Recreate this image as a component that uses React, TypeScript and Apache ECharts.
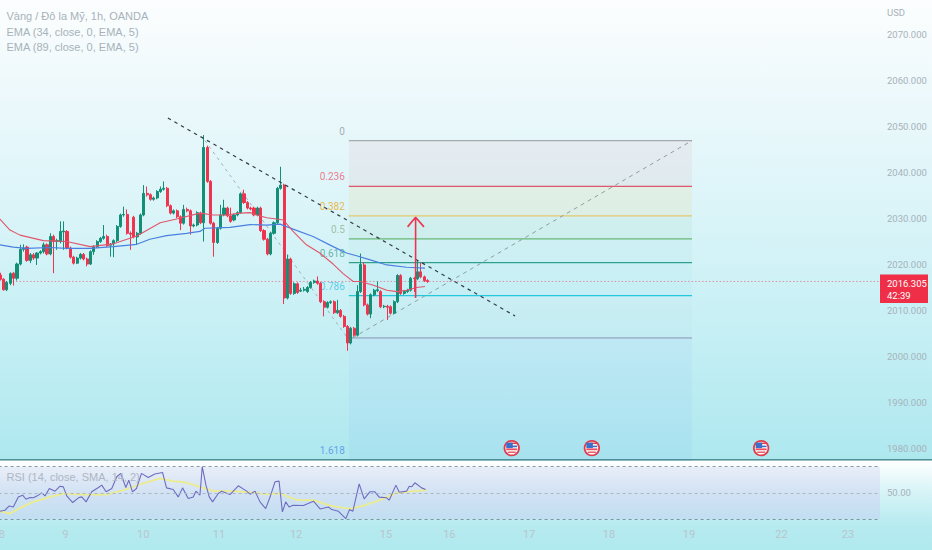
import React, { useEffect, useRef } from "react";
import * as echarts from "echarts";

// [open, close, low, high]
const candles: number[][] = [
  [2017.7,2016.8,2016.5,2018.2],[2016.8,2014.5,2014.3,2017.0],[2014.5,2016.1,2014.2,2016.4],[2015.9,2018.0,2015.5,2018.3],
  [2018.1,2017.0,2015.4,2018.4],[2017.0,2020.1,2016.5,2020.4],[2020.1,2023.3,2019.8,2024.3],[2023.3,2023.6,2022.8,2024.4],
  [2023.8,2020.9,2020.6,2024.1],[2020.9,2022.1,2020.3,2022.5],[2022.1,2021.4,2021.0,2022.5],[2021.4,2022.5,2019.9,2022.7],
  [2022.5,2022.8,2022.2,2023.1],[2022.8,2024.3,2022.4,2024.8],[2024.3,2022.3,2022.0,2024.6],[2022.3,2026.1,2022.0,2026.8],
  [2026.1,2025.0,2018.1,2026.5],[2025.0,2025.2,2023.2,2025.6],[2025.0,2027.2,2024.6,2029.4],[2027.1,2027.3,2023.2,2029.4],
  [2027.2,2023.6,2023.3,2027.5],[2023.6,2021.6,2021.3,2023.9],[2021.6,2020.3,2020.0,2021.9],[2020.3,2021.4,2020.1,2021.7],
  [2021.4,2022.2,2021.1,2022.5],[2022.2,2021.2,2020.9,2022.5],[2021.2,2020.1,2019.6,2021.5],[2020.1,2022.8,2019.9,2023.1],
  [2022.8,2023.9,2022.1,2024.2],[2023.9,2025.0,2023.6,2025.3],[2025.0,2025.7,2024.7,2026.0],[2025.7,2026.1,2025.4,2028.6],
  [2026.1,2024.1,2023.8,2026.5],[2024.2,2024.4,2021.7,2024.7],[2024.5,2025.2,2021.6,2025.5],[2025.2,2028.3,2024.9,2028.6],
  [2028.3,2030.8,2028.0,2031.1],[2030.8,2030.9,2030.4,2032.6],[2030.9,2026.8,2026.5,2032.0],[2026.8,2026.6,2023.2,2027.2],
  [2030.3,2026.0,2025.7,2030.6],[2026.0,2026.8,2024.3,2027.1],[2026.8,2030.8,2026.5,2031.1],[2030.8,2035.5,2030.5,2037.3],
  [2035.5,2035.2,2034.8,2037.0],[2035.2,2034.2,2033.9,2035.5],[2034.2,2034.5,2033.9,2034.8],[2034.5,2035.9,2034.2,2036.2],
  [2035.9,2036.4,2035.6,2037.0],[2036.4,2036.6,2036.1,2038.1],[2036.6,2032.8,2032.5,2036.9],[2032.8,2031.2,2030.9,2033.1],
  [2031.2,2031.7,2030.9,2032.0],[2031.7,2030.4,2030.1,2032.0],[2030.4,2029.0,2027.5,2030.7],[2029.0,2032.0,2028.7,2033.0],
  [2032.0,2031.7,2031.4,2032.4],[2031.7,2028.4,2026.5,2032.0],[2028.4,2028.6,2028.1,2028.9],[2028.6,2031.3,2028.3,2031.6],
  [2031.2,2029.1,2028.8,2031.5],[2029.1,2045.5,2025.0,2048.2],[2045.5,2038.1,2037.8,2045.9],[2038.1,2029.0,2028.7,2038.4],
  [2029.0,2024.8,2021.7,2029.3],[2024.8,2027.9,2024.5,2028.2],[2027.9,2030.8,2027.6,2033.0],[2030.8,2032.3,2030.5,2034.1],
  [2032.3,2030.6,2030.3,2032.6],[2030.6,2029.4,2029.1,2032.4],[2029.7,2030.8,2029.4,2031.1],[2030.8,2031.3,2030.5,2031.6],
  [2031.3,2035.4,2031.0,2035.7],[2035.4,2033.5,2033.2,2036.3],[2033.5,2032.3,2032.0,2033.8],[2032.3,2032.1,2031.8,2032.6],
  [2032.3,2030.8,2030.5,2032.6],[2030.8,2032.3,2030.5,2032.6],[2032.3,2027.4,2027.1,2032.6],[2027.4,2025.5,2025.2,2027.7],
  [2025.5,2022.3,2022.0,2025.8],[2022.3,2026.8,2022.0,2027.1],[2026.8,2029.1,2026.5,2029.4],[2029.1,2036.6,2028.8,2036.9],
  [2036.6,2037.3,2036.3,2041.3],[2037.3,2012.7,2011.4,2037.6],[2012.7,2021.2,2012.4,2022.1],[2021.2,2013.7,2013.4,2021.5],
  [2013.7,2015.8,2013.4,2016.1],[2015.8,2013.9,2013.6,2016.1],[2014.2,2014.4,2014.0,2014.9],[2014.4,2014.6,2014.1,2015.1],
  [2014.1,2015.0,2013.8,2015.3],[2015.0,2016.1,2014.7,2016.4],[2016.1,2016.4,2015.8,2016.7],[2016.4,2015.9,2015.6,2017.4],
  [2015.9,2011.9,2011.6,2016.2],[2011.9,2010.7,2008.7,2012.2],[2010.7,2011.7,2010.4,2012.0],[2011.7,2011.9,2011.4,2012.2],
  [2011.9,2009.5,2009.2,2012.2],[2009.5,2010.0,2009.2,2012.3],[2010.0,2008.7,2008.4,2010.3],[2008.7,2006.5,2006.2,2009.0],
  [2006.5,2002.9,2001.2,2006.8],[2002.9,2006.1,2002.6,2006.4],[2006.1,2004.6,2004.3,2006.4],[2004.6,2014.1,2004.3,2015.5],
  [2014.1,2020.0,2013.8,2022.4],[2019.9,2011.2,2010.9,2020.5],[2011.2,2009.2,2008.9,2011.5],[2009.2,2013.4,2008.3,2013.7],
  [2013.4,2014.4,2013.1,2014.7],[2014.3,2014.5,2014.0,2016.3],[2014.1,2010.8,2010.5,2014.4],[2010.8,2010.9,2010.5,2011.2],
  [2010.9,2010.7,2007.9,2011.2],[2010.8,2009.4,2009.1,2011.1],[2009.4,2011.9,2009.1,2012.2],[2011.9,2017.6,2011.6,2017.9],
  [2017.6,2013.7,2013.4,2017.9],[2013.7,2014.1,2013.4,2014.4],[2014.1,2014.4,2013.8,2014.7],[2014.4,2017.0,2014.1,2017.3],
  [2017.0,2016.9,2014.0,2017.3],[2016.9,2018.4,2016.6,2021.0],[2018.4,2017.3,2017.0,2020.4],[2017.3,2016.5,2016.2,2017.6],
  [2016.5,2016.3,2016.0,2016.8],
];

const ema34: number[][] = [
  [0.4,2029.9],[3.4,2027.5],[6.4,2026.4],[13.4,2025.2],[20.4,2025.0],[27.4,2023.9],[34.4,2024.5],[41.4,2026.2],[48.4,2029.1],
  [53.3,2029.9],[60.3,2031.2],[64.3,2030.8],[68.3,2030.8],[72.3,2031.2],[75.3,2031.3],[77.3,2030.8],[80.3,2030.2],[83.3,2029.9],
  [85.3,2029.7],[88.2,2027.2],[92.2,2024.3],[96.2,2022.5],[100.2,2020.1],[103.2,2018.0],[106.2,2016.3],[108.3,2016.3],
  [112.3,2015.5],[116.3,2014.4],[119.3,2014.1],[122.2,2014.4],[125.2,2015.0],[127.7,2015.2],
];
const ema89: number[][] = [
  [0.4,2024.3],[4.4,2023.8],[8.4,2023.5],[15.4,2023.7],[20.4,2023.5],[27.4,2023.5],[34.4,2023.9],[41.4,2024.4],[45.3,2025.5],
  [50.3,2026.3],[56.3,2026.8],[60.3,2027.2],[61.8,2027.9],[69.3,2028.1],[75.3,2028.7],[80.3,2028.6],[84.3,2028.8],[88.2,2027.7],
  [94.2,2026.1],[100.2,2023.9],[104.2,2022.5],[107.2,2021.9],[111.3,2021.0],[116.3,2019.9],[122.2,2019.4],[127.7,2019.2],
];
const rsi: number[][] = [
  [0.4,35.9],[1.9,36.7],[3.2,40],[4.4,39.2],[5.9,46.9],[7.2,48.2],[8.2,45.1],[9.4,46.4],[10.4,46.2],[11.6,47.7],[12.9,50],[13.9,47.7],
  [15.2,53.3],[16.9,51.3],[18.4,55.1],[19.4,54.6],[20.4,47.7],[22.2,42.6],[23.9,46.2],[24.9,46.9],[26.2,43.1],[27.9,50.8],[29.9,54.1],
  [30.9,55.9],[32.2,50.8],[33.9,53.3],[35.4,62.3],[36.6,64.9],[38.1,54.1],[39,59.7],[40.1,50.8],[41.3,53.3],[42.8,64.9],[44.8,61.8],
  [46.8,64.4],[49.1,65.6],[50.3,53.8],[52.3,52.6],[53.8,46.9],[55.1,53.8],[56.8,45.6],[58.3,46.9],[59.1,51.3],[60.3,48.2],[61,70],
  [62.1,55.9],[63.1,46.9],[64.1,43.1],[65.8,49.5],[66.8,51.3],[69.3,48.7],[71.8,55.4],[74.3,51.3],[75.3,49],[76.8,51.3],[78.3,43.1],
  [80,37.9],[81.5,48.2],[82.8,58.5],[84,59],[85,35.4],[86,43.1],[87,39.2],[88.2,40.5],[91.3,40.3],[94.3,43.6],[96.3,37.7],[98.8,39.2],
  [99.8,37.2],[101.8,35.9],[104,30.3],[105.1,37.2],[106.1,35.9],[108,56.9],[109.5,45.4],[111.2,50.8],[112.7,50.8],[114,46.7],[116.2,46.2],
  [117,44.4],[119,55.9],[120,50.5],[122.2,51.3],[123,55.1],[123.7,54.6],[124.7,57.7],[126.7,53.8],[127.9,52.6],
];
const rsiMa: number[][] = [
  [0.4,35.9],[3.4,34.1],[6.4,38.5],[10.4,43.1],[15.4,47],[19.4,49.5],[25.4,48.7],[32.3,48.7],[37.4,52],[42.3,56.4],[48.3,61],[52.3,58.9],
  [56.3,57.9],[60.3,54.6],[64.3,51.3],[70.3,51.3],[75.3,50.3],[80.3,49],[84.3,49.5],[89.3,44.4],[94.3,44.4],[99.3,40.3],[105.3,37.7],
  [109.3,40.3],[114.2,44.4],[119.2,50],[124.2,51.3],[128.2,52.1],
];

const priceTicks = [1980,1990,2000,2010,2020,2030,2040,2050,2060,2070];
const dayPositions = [1,20,43.3,66,89.1,116,135,158.9,182.8,206.8,234.5,254.4];
const dayLabels = ["8","9","10","11","12","15","16","17","18","19","22","23"];

const fibRatios = ["0","0.236","0.382","0.5","0.618","0.786","1","1.618"];
const fibPrices = [2047,2037,2030.6,2025.6,2020.4,2013.2,2004,1977.41];
const fibLineColors = ["#a4abb0","#e0566c","#e3c870","#66b876","#2f9f8e","#22c8dc","#8a92b2","#5b9af0"];
const fibLabelColors = ["#8f979c","#ef5a72","#f0a820","#8fb58a","#4aa59a","#3cc4e4","","#4f8fe8"];
const fibFills = ["rgba(242,54,69,0.055)","rgba(255,190,60,0.10)","rgba(76,175,80,0.06)","rgba(8,153,129,0.03)","rgba(0,188,212,0.03)","rgba(120,123,134,0.02)","rgba(41,98,255,0.035)"];
const fibRange = [104.9,207.7];
const fibDiagonal = [[106,2004],[207.7,2047]];
const swingLeg = [[61.8,2047],[104.5,2004]];
const downTrend = [[50.7,2051.9],[154.7,2008.8]];
const arrowPath = [[124.9,2012.7],[124.9,2030.3],[122.5,2028.2],[124.9,2030.3],[127.4,2028.2]];
const lastPrice = 2016.305;
const countdown = "42:39";
const flagEvents = [[153.7,1980],[177.7,1980],[228.4,1980]];
const legendLines = ["Vàng / Đô la Mỹ, 1h, OANDA","EMA (34, close, 0, EMA, 5)","EMA (89, close, 0, EMA, 5)"];
const rsiTitle = "RSI (14, close, SMA, 14, 2)";

const SLOTS = 264;
const GREY = "#a7b2ba";
const NARROW = "Roboto, sans-serif";
const SANS = "'Liberation Sans', Arial, sans-serif";
const LINEAR = (stops: [number, string][]) =>
  new echarts.graphic.LinearGradient(0, 0, 0, 1, stops.map(([offset, color]) => ({ offset, color })));

export default function App() {
  const ref = useRef<HTMLDivElement>(null);
  useEffect(() => {
    const chart = echarts.init(ref.current!, undefined, { renderer: "svg" });
    const line = (data: number[][], color: string, width: number, type: any = "solid", extra: any = {}) => ({
      type: "line", xAxisIndex: 1, yAxisIndex: 0, data, showSymbol: false, symbol: "none", smooth: false, silent: true,
      lineStyle: { color, width, type }, ...extra,
    });
    chart.setOption({
      animation: false,
      grid: [
        { left: -1.4, top: 0, width: 881.4, height: 460, outerBoundsMode: "none" },
        { left: -1.4, top: 461, width: 881.4, height: 64, outerBoundsMode: "none" },
      ],
      xAxis: [
        { type: "category", gridIndex: 0, data: Array.from({ length: SLOTS }, (_, i) => String(i)), show: false, boundaryGap: true },
        { type: "value", gridIndex: 0, min: 0, max: SLOTS, show: false, splitLine: { show: false } },
        {
          type: "value", gridIndex: 1, min: 0, max: SLOTS, position: "bottom",
          axisLine: { show: false }, axisTick: { show: false }, splitLine: { show: false },
          axisLabel: {
            show: true, customValues: dayPositions, margin: 4, color: "#b8c5cc", fontSize: 11, fontFamily: NARROW,
            formatter: (v: number) => dayLabels[dayPositions.indexOf(v)] ?? "",
            hideOverlap: false, alignMinLabel: "center", alignMaxLabel: "center",
          },
        },
      ],
      yAxis: [
        {
          type: "value", gridIndex: 0, position: "right", min: 1977.41, max: 2077.625, scale: true,
          axisLine: { show: false }, axisTick: { show: false }, splitLine: { show: false },
          axisLabel: { customValues: priceTicks, margin: 7, color: GREY, fontSize: 9.5, fontFamily: NARROW, formatter: (v: number) => v.toFixed(3) },
        },
        {
          type: "value", gridIndex: 1, position: "right", min: 25.41, max: 74.36, scale: true,
          axisLine: { show: false }, axisTick: { show: false }, splitLine: { show: false },
          axisLabel: { customValues: [50], margin: 7, color: GREY, fontSize: 9.5, fontFamily: NARROW, formatter: (v: number) => v.toFixed(2) },
        },
      ],
      graphic: [
        { type: "line", z: 50, shape: { x1: 0, y1: 459.8, x2: 932, y2: 459.8 }, style: { stroke: "#4f8e94", lineWidth: 1.4 } },
        { type: "text", z: 60, x: 6.5, y: 16, style: { text: legendLines[0], fill: GREY, font: `11px ${SANS}`, textVerticalAlign: "middle" } },
        { type: "text", z: 60, x: 6.5, y: 31.5, style: { text: legendLines[1], fill: GREY, font: `11px ${SANS}`, textVerticalAlign: "middle" } },
        { type: "text", z: 60, x: 6.5, y: 46.5, style: { text: legendLines[2], fill: GREY, font: `11px ${SANS}`, textVerticalAlign: "middle" } },
        { type: "text", z: 60, x: 6.5, y: 477, style: { text: rsiTitle, fill: "#adb6c4", font: `11px ${SANS}`, textVerticalAlign: "middle" } },
        { type: "text", z: 60, x: 887, y: 12, style: { text: "USD", fill: GREY, font: `9.5px ${NARROW}`, textVerticalAlign: "middle" } },
        { type: "rect", z: 60, shape: { x: 880, y: 274.5, width: 48, height: 28.5 }, style: { fill: "#ee2f47" } },
        { type: "text", z: 61, x: 887, y: 283, style: { text: lastPrice.toFixed(3), fill: "#ffffff", font: `9.5px ${NARROW}`, textVerticalAlign: "middle" } },
        { type: "text", z: 61, x: 887, y: 295, style: { text: countdown, fill: "#ffffff", font: `9.5px ${NARROW}`, textVerticalAlign: "middle" } },
      ],
      series: [
        {
          type: "scatter", xAxisIndex: 1, yAxisIndex: 0, z: 1, silent: true, symbolSize: 0.01,
          data: fibPrices.map((p, i) => ({
            value: [fibRange[0] - 1.2, p],
            label: {
              show: fibLabelColors[i] !== "", position: "left", distance: 0, offset: [0, -9.5],
              formatter: fibRatios[i], color: fibLabelColors[i], fontSize: 10, fontFamily: NARROW,
            },
          })),
          markArea: {
            silent: true,
            data: fibFills.map((c, i) => [
              { coord: [fibRange[0], fibPrices[i]], itemStyle: { color: c, borderWidth: 0 } },
              { coord: [fibRange[1], fibPrices[i + 1]] },
            ]),
          },
        },
        ...fibPrices.map((p, i) => line([[fibRange[0], p], [fibRange[1], p]], fibLineColors[i], i === 6 ? 1 : 1.2, "solid", { z: 2 })),
        line(fibDiagonal, "#8f9ea4", 1, [4, 4], { z: 2 }),
        line(swingLeg, "#9fb2b6", 1, [3, 4], { z: 2 }),
        line(downTrend, "#333d45", 1.2, [3.5, 4], { z: 6 }),
        {
          type: "candlestick", xAxisIndex: 0, yAxisIndex: 0, z: 3, silent: true, barWidth: 2.6,
          data: candles,
          itemStyle: { color: "#128f76", color0: "#ee3550", borderColor: "#128f76", borderColor0: "#ee3550", borderWidth: 1 },
        },
        line(ema89, "#4a7fe0", 1.2, "solid", { z: 4 }),
        line(ema34, "#e0566a", 1.1, "solid", { z: 4 }),
        line(arrowPath, "#ee3350", 1.6, "solid", { z: 7 }),
        line([[0, lastPrice], [SLOTS, lastPrice]], "#e0788a", 0.8, [1.5, 2], { z: 2 }),
        {
          type: "custom", xAxisIndex: 1, yAxisIndex: 0, z: 8, silent: true, data: flagEvents, clip: false,
          renderItem: (_: any, api: any) => {
            const [cx, cy] = api.coord([api.value(0), api.value(1)]);
            const bar = (y: number, h: number, w: number, x: number, fill: string) => ({
              type: "rect", shape: { x: cx + x, y: cy + y, width: w, height: h }, style: { fill },
            });
            return {
              type: "group",
              children: [
                { type: "circle", shape: { cx, cy, r: 8.2 }, style: { fill: "#e23b4c" } },
                { type: "circle", shape: { cx, cy, r: 6.4 }, style: { fill: "#ffffff" } },
                bar(-5.5, 1.5, 7, -2, "#d9404f"),
                bar(-5.5, 5.5, 6.5, -5.5, "#3d6fc8"),
                bar(-2.5, 1.6, 10.4, -5, "#3d6fc8"),
                bar(0.3, 1.8, 11, -5.5, "#e8505e"),
                bar(3.4, 1.4, 8, -4, "#e8505e"),
              ],
            };
          },
        },
        {
          type: "line", xAxisIndex: 2, yAxisIndex: 1, data: rsiMa, z: 3, silent: true, showSymbol: false, symbol: "none",
          lineStyle: { color: "#ecec8e", width: 1.8 },
        },
        {
          type: "line", xAxisIndex: 2, yAxisIndex: 1, data: rsi, z: 4, silent: true, showSymbol: false, symbol: "none",
          lineStyle: { color: "#6f6cc0", width: 1.1 },
          markArea: {
            silent: true,
            data: [[
              { coord: [0, 70], itemStyle: { color: LINEAR([[0, "#e9eef8"], [0.5, "#d2e2f4"], [1, "#c2def1"]]), borderWidth: 0 } },
              { coord: [SLOTS, 30] },
            ]],
          },
          markLine: {
            silent: true, symbol: "none", label: { show: false },
            data: [
              { yAxis: 70, lineStyle: { color: "#8a99a8", width: 1, type: [3, 3] } },
              { yAxis: 50, lineStyle: { color: "#aab6c4", width: 1, type: [3, 3] } },
              { yAxis: 30, lineStyle: { color: "#7d95a4", width: 1, type: [3, 3] } },
            ],
          },
        },
      ],
    });
    return () => chart.dispose();
  }, []);
  return (
    <div
      ref={ref}
      style={{
        position: "fixed", left: 0, top: 0, width: 932, height: 550,
        background:
          "linear-gradient(to bottom, #fcfefe 0px, #eff9fc 80px, #d9f4f8 220px, #c4eff4 340px, #aee8ef 459px, #ffffff 461px, #d9f4f7 490px, #b6ebf0 525px, #b0e9ee 550px)",
      }}
    />
  );
}
